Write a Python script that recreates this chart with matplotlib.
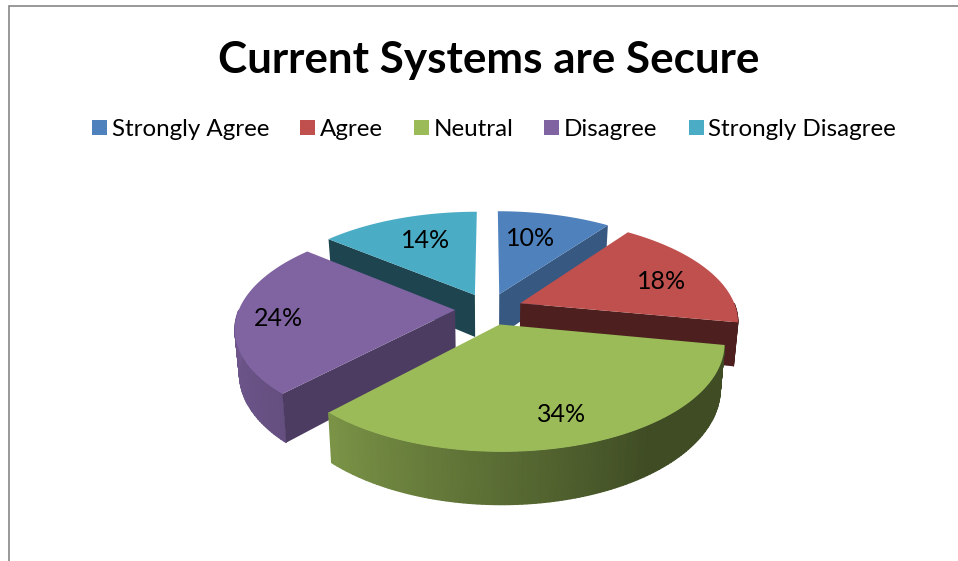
import numpy as np
import matplotlib
matplotlib.use("Agg")
import matplotlib.pyplot as plt
from matplotlib.colors import LinearSegmentedColormap
from matplotlib.patches import Polygon, Patch

plt.rcParams['font.family'] = ['Lato', 'DejaVu Sans']

categories = ["Strongly Agree", "Agree", "Neutral", "Disagree", "Strongly Disagree"]
percent = [10, 18, 34, 24, 14]

colors = ["#4F81BD", "#C0504D", "#9BBB59", "#8064A2", "#4BACC6"]
face_shade = [0.68, 0.40, 0.40, 0.60, 0.40]
label_pos = [(531, 238), (662, 281), (562, 414), (278, 318), (426, 240)]

# projection of the pie plane to the screen
cx, cy = 489.0, 309.0
ax_x, ax_y = 216.0, 101.0
persp = 0.163
explode = 0.157
depth = 43.0
squeeze = 0.018


def project(gx, gy):
    d = 1 + persp * gy
    return cx + ax_x * gx / d, cy - ax_y * gy / d, d


def top_pt(theta, off):
    t = np.radians(theta)
    return project(off[0] + np.sin(t), off[1] + np.cos(t))


def lower(x, y, d):
    return cx + (x - cx) * (1 - squeeze), y + depth / d


def shade(color, k):
    return tuple(c * k for c in matplotlib.colors.to_rgb(color))


def wall_shade(theta):
    return np.interp(theta, [100, 145, 180, 223, 270], [0.41, 0.41, 0.58, 0.79, 0.88])


fig = plt.figure(figsize=(9.58, 5.61), dpi=100)
ax = fig.add_axes([0, 0, 1, 1])
ax.set_xlim(0, 958)
ax.set_ylim(561, 0)
ax.axis("off")

# chart border, only left and top fall inside the image
ax.plot([9, 9, 958], [561, 6, 6], color="#868686", lw=1.2, solid_joinstyle="miter")

bounds = np.concatenate([[0], np.cumsum(percent)]) * 3.6
slices = []
for i in range(len(percent)):
    start, end = bounds[i], bounds[i + 1]
    mid = np.radians((start + end) / 2)
    off = (explode * np.sin(mid), explode * np.cos(mid))
    slices.append((i, start, end, off))

# back slices first so the nearer ones paint over them
for i, start, end, off in [slices[k] for k in (4, 0, 3, 1, 2)]:
    apex = project(off[0], off[1])

    # outer wall, only the part turned towards the viewer
    lo, hi = max(start, 90), min(end, 270)
    if hi > lo:
        steps = np.linspace(lo, hi, int(hi - lo) + 2)
        upper = [top_pt(t, off) for t in steps]
        bottom = [lower(*p) for p in upper]
        mx = np.array([[p[0] for p in upper], [p[0] for p in bottom]])
        my = np.array([[p[1] for p in upper], [p[1] for p in bottom]])
        mc = np.array([wall_shade(steps), wall_shade(steps)])
        cmap = LinearSegmentedColormap.from_list(f"wall{i}", ["black", colors[i]])
        ax.pcolormesh(mx, my, mc, shading="gouraud", cmap=cmap, vmin=0, vmax=1)

    # cut faces
    for theta, normal in ((start, start - 90), (end, end + 90)):
        if np.cos(np.radians(normal)) < -1e-6:
            p = top_pt(theta, off)
            quad = [apex[:2], p[:2], lower(*p), lower(*apex)]
            ax.add_patch(Polygon(quad, closed=True, facecolor=shade(colors[i], face_shade[i]), edgecolor="none"))

    # top face
    arc = [top_pt(t, off)[:2] for t in np.linspace(start, end, 120)]
    ax.add_patch(Polygon([apex[:2]] + arc, closed=True, facecolor=colors[i], edgecolor="none"))

for v, (x, y) in zip(percent, label_pos):
    ax.text(x, y, f"{v}%", ha="center", va="center", fontsize=18, color="black")

ax.text(488.5, 59.5, "Current Systems are Secure", ha="center", va="center",
        fontsize=31.7, fontweight="bold", color="black")

handles = [Patch(facecolor=c, edgecolor="none") for c in colors]
ax.legend(handles, categories, ncol=5, frameon=False, fontsize=17.4,
          loc="center", bbox_to_anchor=(494 / 958, 1 - 129.5 / 561),
          handlelength=0.62, handleheight=0.577, handletextpad=0.2,
          columnspacing=1.28, borderpad=0, borderaxespad=0)

fig.savefig("out.png", dpi=100)
